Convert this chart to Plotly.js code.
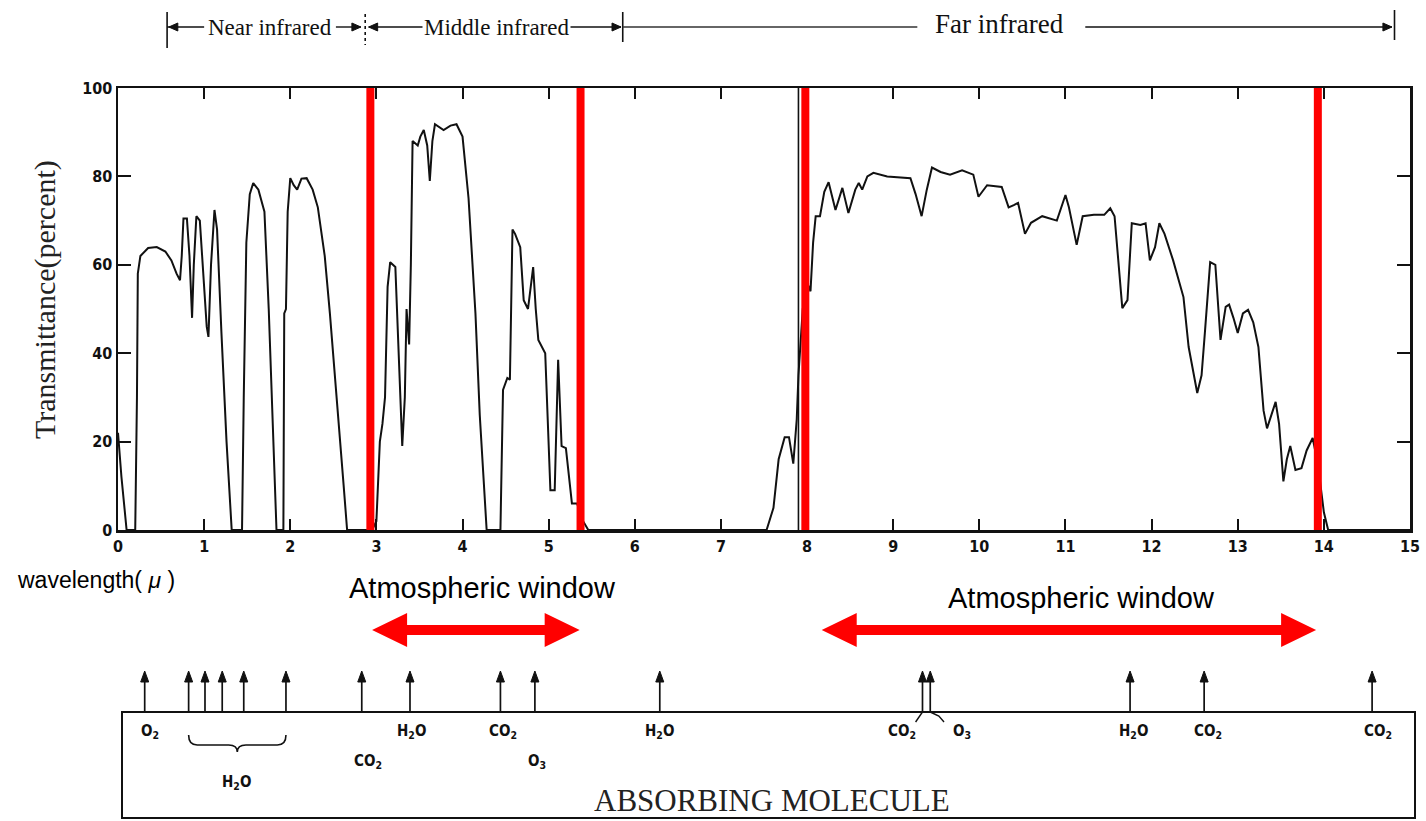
<!DOCTYPE html>
<html><head><meta charset="utf-8">
<script src="https://cdn.plot.ly/plotly-3.0.1.min.js"></script>
<style>html,body{margin:0;padding:0;background:#fff;} #chart{width:1426px;height:821px;}</style>
</head><body><div id="chart"></div>
<script>
// ---- data ----
const wavelength = [
 0.00,0.04,0.10,0.20,0.22,0.23,0.26,0.35,0.45,0.55,0.62,0.68,0.72,0.74,0.76,0.80,0.83,0.86,0.88,0.91,0.95,0.99,1.03,1.05,1.08,1.12,1.15,1.20,1.26,1.32,
 1.44,1.46,1.49,1.53,1.57,1.63,1.70,1.75,1.80,1.84,1.92,1.93,1.95,1.97,2.00,2.04,2.08,2.13,2.19,2.26,2.32,2.40,2.46,2.52,2.58,2.62,2.66,
 2.95,3.00,3.04,3.07,3.10,3.13,3.16,3.22,3.26,3.30,3.33,3.35,3.38,3.40,3.42,3.48,3.51,3.55,3.59,3.62,3.65,3.68,3.78,3.86,3.93,4.00,4.07,4.15,4.20,4.28,
 4.44,4.47,4.52,4.55,4.58,4.61,4.67,4.71,4.76,4.82,4.85,4.88,4.96,5.00,5.02,5.07,5.11,5.15,5.20,5.27,5.33,5.40,5.46,
 7.53,7.61,7.67,7.74,7.79,7.84,7.88,7.90,7.95,8.00,8.04,8.07,8.10,8.15,8.20,8.25,8.33,8.41,8.48,8.56,8.60,8.64,8.70,8.77,8.93,
 9.20,9.26,9.33,9.39,9.45,9.55,9.66,9.80,9.93,9.99,10.09,10.26,10.34,10.40,10.45,10.53,10.60,10.73,10.90,
 11.00,11.04,11.13,11.20,11.33,11.45,11.52,11.57,11.66,11.72,11.77,11.87,11.93,11.98,12.04,12.09,12.15,12.25,12.37,12.43,12.53,12.58,12.62,12.68,12.74,
 12.80,12.86,12.90,12.95,13.00,13.06,13.12,13.18,13.24,13.30,13.34,13.39,13.44,13.48,13.53,13.57,13.61,13.67,13.74,13.80,13.87,13.93,14.00,14.05,15.00];
const transmittance = [
 22,12,0,0,30,58,62,63.8,64,63,61,58,56.5,62,70.5,70.5,62,48,60,71,70,58,46,43.7,60,72.4,68,45,20,0,
 0,30,65,76,78.5,77,72,50,20,0,0,49,50,72,79.6,78,77,79.5,79.6,77,73,62,49,35,20,10,0,
 0,2,20,24,30,55,60.6,59.5,40,19,30,50,42,60,88,87,89,90.5,87,79,88,91.8,90.5,91.5,91.8,89,75,49,26,0,
 0,31.7,34.4,34,68,67,64,52,50,59.5,50,43,40,20,9,9,38.5,19,18.5,6,6,2,0,
 0,5,16,21,21,15,25,35,50,56,54,65,71,71,76.5,78.7,72.4,77.4,71.7,77,78.5,77,80,80.8,80,
 79.6,76,71,77,82,81,80.4,81.4,80.4,75.4,78,77.6,73,73.5,74,67,69.5,71,70,
 75.8,73,64.5,71,71.3,71.3,72.8,71,50.2,52,69.4,69,69.4,61,64,69.4,67,61,52.7,41.4,31,35,45,60.6,60,
 43,50.5,51,48,44.6,49,49.8,47,41.4,27,23,26,29,24,11,16,19,13.6,14,18,20.8,15,4,0,0];

const windowEdges = [2.93, 5.37, 7.98, 13.93];          // red vertical lines
const windowArrowSpans = [[2.95, 5.36], [8.17, 13.91]]; // red double arrows
const windowLabelX = [4.23, 11.19];
const windowLabelText = ['Atmospheric window', 'Atmospheric window'];

const bandNames = ['Near infrared', 'Middle infrared', 'Far infrared'];
const bandLabelX = [1.76, 4.40, 10.23];
const bandBounds = [0.57, 2.87, 5.86, 14.82];

const moleculeArrowX = [0.31, 0.82, 1.01, 1.21, 1.46, 1.95, 2.83, 3.39, 4.44, 4.84, 6.29, 9.34, 9.43, 11.75, 12.61, 14.56];
const moleculeLabels = ['O<sub>2</sub>','H<sub>2</sub>O','CO<sub>2</sub>','H<sub>2</sub>O','CO<sub>2</sub>','O<sub>3</sub>','H<sub>2</sub>O','CO<sub>2</sub>','O<sub>3</sub>','H<sub>2</sub>O','CO<sub>2</sub>','CO<sub>2</sub>'];
const moleculeLabelX = [0.37, 1.38, 2.90, 3.41, 4.47, 4.87, 6.29, 9.10, 9.80, 11.79, 12.66, 14.63];
const moleculeLabelRow = [0, 2, 1, 0, 0, 1, 0, 0, 0, 0, 0, 0];

const xTicks = [0,1,2,3,4,5,6,7,8,9,10,11,12,13,14,15];
const yTicks = [0,20,40,60,80,100];

// ---- layout helpers ----
const W = 1426, H = 821;
const PL = 118, PR = 1410, PT = 88, PB = 530;
const PXU = (PR - PL) / 15;            // pixels per micron
const yp = p => 1 - p / H;              // pixel row -> paper y
const serif = "'Liberation Serif','DejaVu Serif',serif";
const sans = "'Liberation Sans',Arial,sans-serif";
const narrow = "'Liberation Sans Narrow','DejaVu Sans Condensed','Liberation Sans',sans-serif";

const shapes = [];
const annotations = [];
const text = (o) => annotations.push(Object.assign({showarrow:false, xanchor:'center', yanchor:'middle'}, o));

// red window lines
windowEdges.forEach(x => shapes.push({type:'line', xref:'x', yref:'y', x0:x, x1:x, y0:0, y1:100,
  line:{color:'#ff0000', width:8}, layer:'above'}));
// original thin line near 8 um
shapes.push({type:'line', xref:'x', yref:'y', x0:7.9, x1:7.9, y0:0, y1:100, line:{color:'#111', width:1.6}, layer:'below'});

// red double arrows
const yc = yp(630), hh = 17 / H, st = 5 / H, hl = 35 / PXU;
windowArrowSpans.forEach(([a, b]) => {
  const path = `M${a},${yc} L${a+hl},${yc+hh} L${a+hl},${yc+st} L${b-hl},${yc+st} L${b-hl},${yc+hh} L${b},${yc} ` +
               `L${b-hl},${yc-hh} L${b-hl},${yc-st} L${a+hl},${yc-st} L${a+hl},${yc-hh} Z`;
  shapes.push({type:'path', xref:'x', yref:'paper', path, fillcolor:'#ff0000', line:{width:0}});
});
windowLabelX.forEach((x, i) => text({x, y: yp(i === 0 ? 588 : 598), xref:'x', yref:'paper',
  text: windowLabelText[i], font:{family:sans, size:29, color:'#000'}}));

// small black arrow heads drawn as shapes
const headH = (xTip, yPix, dir) => {       // horizontal arrow head, dir -1 = points left, +1 = right
  const L = 9 / PXU, h = 4 / H, y = yp(yPix);
  shapes.push({type:'path', xref:'x', yref:'paper', fillcolor:'#111', line:{color:'#111', width:1},
    path:`M${xTip},${y} L${xTip - dir * L},${y + h} L${xTip - dir * L},${y - h} Z`});
};
const headUp = (x, tipPix) => {
  const w = 4 / PXU, y0 = yp(tipPix), y1 = yp(tipPix + 11);
  shapes.push({type:'path', xref:'x', yref:'paper', fillcolor:'#111', line:{color:'#111', width:1},
    path:`M${x},${y0} L${x - w},${y1} L${x + w},${y1} Z`});
};

// top band (Near / Middle / Far infrared)
const YB = 27, yb = yp(YB);
const bar = (x, p0, p1, dash) => shapes.push({type:'line', xref:'x', yref:'paper', x0:x, x1:x, y0:yp(p0), y1:yp(p1),
  line:{color:'#111', width:1.6, dash: dash || 'solid'}});
const seg = (x0, x1, color) => shapes.push({type:'line', xref:'x', yref:'paper', x0, x1, y0:yb, y1:yb, line:{color: color || '#111', width:1.4}});
bar(bandBounds[0], 12, 48);
seg(bandBounds[0], 1.0); headH(bandBounds[0] + 0.02, YB, -1);
seg(2.53, bandBounds[1] - 0.05); headH(bandBounds[1] - 0.05, YB, 1);
bar(bandBounds[1], 14, 45, 'dot');
seg(bandBounds[1] + 0.04, 3.62); headH(bandBounds[1] + 0.04, YB, -1);
seg(5.20, bandBounds[2] - 0.02); headH(bandBounds[2] - 0.02, YB, 1);
bar(bandBounds[2], 12, 42);
seg(bandBounds[2], 9.28, '#333');
seg(11.23, bandBounds[3] - 0.03); headH(bandBounds[3] - 0.03, YB, 1);
bar(bandBounds[3], 10, 40);
bandNames.forEach((t, i) => text({x: bandLabelX[i], y: yp(i === 2 ? 24 : 27), xref:'x', yref:'paper', text:t,
  bgcolor:'#ffffff', borderpad:1, font:{family:serif, size: i === 2 ? 27 : 23, color:'#111'}}));

// absorbing-molecule panel
shapes.push({type:'rect', xref:'paper', yref:'paper', x0:122 / W, x1:1415 / W, y0:yp(818), y1:yp(712), line:{color:'#111', width:2}});
moleculeArrowX.forEach(x => {
  shapes.push({type:'line', xref:'x', yref:'paper', x0:x, x1:x, y0:yp(712), y1:yp(680), line:{color:'#111', width:1.7}});
  headUp(x, 671);
});
const rowY = [731, 761, 782];
moleculeLabels.forEach((t, i) => text({x: moleculeLabelX[i], y: yp(rowY[moleculeLabelRow[i]]), xref:'x', yref:'paper',
  text: t, font:{family:narrow, size:15, color:'#111', weight:'bold'}}));
// brace under the water-vapour group
const g0 = moleculeArrowX[1], g1 = moleculeArrowX[5], gm = (g0 + g1) / 2, dx = 0.1;
shapes.push({type:'path', xref:'x', yref:'paper', line:{color:'#111', width:1.6},
  path:`M${g0},${yp(735)} Q${g0},${yp(745)} ${g0+dx},${yp(745)} L${gm-dx},${yp(745)} Q${gm},${yp(745)} ${gm},${yp(752)} ` +
       `Q${gm},${yp(745)} ${gm+dx},${yp(745)} L${g1-dx},${yp(745)} Q${g1},${yp(745)} ${g1},${yp(735)}`});
// small connectors CO2 / O3 near 9.4 um
shapes.push({type:'path', xref:'x', yref:'paper', line:{color:'#111', width:1.4},
  path:`M${moleculeArrowX[11]},${yp(712)} L${moleculeArrowX[11]-0.08},${yp(722)}`});
shapes.push({type:'path', xref:'x', yref:'paper', line:{color:'#111', width:1.4},
  path:`M${moleculeArrowX[12]},${yp(712)} L${moleculeArrowX[12]+0.1},${yp(716)} L${moleculeArrowX[12]+0.16},${yp(722)}`});
text({x: 772 / W, y: yp(800), xref:'paper', yref:'paper', text:'ABSORBING MOLECULE', font:{family:serif, size:31, color:'#222'}});

// axis texts
text({x: 45 / W, y: yp(300), xref:'paper', yref:'paper', text:'Transmittance(percent)', textangle:-90,
  font:{family:serif, size:30, color:'#222'}});
text({x: 15 / W, y: yp(580), xref:'paper', yref:'paper', xanchor:'left', text:'wavelength( <i>μ</i> )',
  font:{family:sans, size:23, color:'#000'}});

const trace = {x: wavelength, y: transmittance, type:'scatter', mode:'lines', line:{color:'#111', width:2}, hoverinfo:'skip', cliponaxis:false};

const layout = {
  width: W, height: H, margin:{l:0, r:0, t:0, b:0}, paper_bgcolor:'#fff', plot_bgcolor:'#fff', showlegend:false,
  xaxis:{domain:[PL / W, PR / W], range:[0, 15], tickvals:xTicks, ticktext:xTicks.map(String), ticks:'inside', ticklen:11, tickwidth:2,
    tickcolor:'#111', showline:true, linecolor:'#111', linewidth:2.5, mirror:'ticks', showgrid:false, zeroline:false,
    tickfont:{family:narrow, size:16, color:'#111', weight:'bold'}, fixedrange:true},
  yaxis:{domain:[1 - PB / H, 1 - PT / H], range:[0, 100], tickvals:yTicks, ticktext:yTicks.map(String), ticks:'inside', ticklen:13, tickwidth:2,
    tickcolor:'#111', showline:true, linecolor:'#111', linewidth:2.5, mirror:'ticks', showgrid:false, zeroline:false,
    tickfont:{family:narrow, size:16, color:'#111', weight:'bold'}, fixedrange:true},
  shapes, annotations
};
Plotly.newPlot('chart', [trace], layout, {displayModeBar:false, staticPlot:true});
</script></body></html>
